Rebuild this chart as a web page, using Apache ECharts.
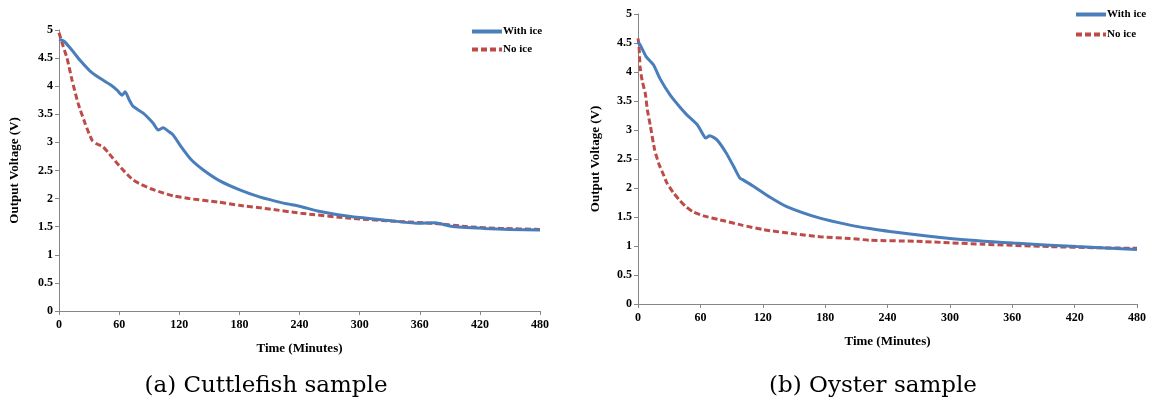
<!DOCTYPE html>
<html>
<head>
<meta charset="utf-8">
<script src="https://cdn.jsdelivr.net/npm/echarts@6/dist/echarts.min.js"></script>
<style>
  html, body { margin: 0; padding: 0; background: #fff; }
  #main { width: 1151px; height: 405px; }
</style>
</head>
<body>
<div id="main"></div>
<script>
// 横轴刻度 (分钟)
const timeTicks = [0, 60, 120, 180, 240, 300, 360, 420, 480];
const seriesNames = ['With ice', 'No ice'];

// (a) Cuttlefish
const cuttleIceTime = [0, 5, 13, 21, 31, 41, 51, 58, 63, 66, 70, 74, 84, 94, 99, 104, 109, 114, 122, 132, 144, 161, 181, 200, 224, 241, 258, 291, 324, 358, 375, 391, 424, 450, 480];
const cuttleIceVolt = [4.83, 4.80, 4.64, 4.46, 4.27, 4.14, 4.03, 3.93, 3.84, 3.90, 3.76, 3.64, 3.52, 3.34, 3.22, 3.26, 3.20, 3.13, 2.92, 2.69, 2.51, 2.31, 2.15, 2.03, 1.92, 1.86, 1.78, 1.68, 1.62, 1.56, 1.57, 1.51, 1.47, 1.45, 1.44];
const cuttleNoIceTime = [0, 4, 8, 13, 19, 26, 33, 38, 44, 50, 58, 66, 74, 82, 91, 102, 114, 130, 158, 180, 208, 241, 291, 341, 374, 408, 440, 480];
const cuttleNoIceVolt = [4.95, 4.72, 4.50, 4.11, 3.70, 3.34, 3.04, 2.97, 2.92, 2.80, 2.63, 2.47, 2.33, 2.25, 2.18, 2.11, 2.05, 2.00, 1.94, 1.88, 1.82, 1.74, 1.65, 1.59, 1.56, 1.50, 1.47, 1.45];

// (b) Oyster
const oysterIceTime = [0, 2, 8, 15, 21, 31, 40, 47, 57, 63, 65, 69, 76, 85, 92, 98, 101, 111, 127, 143, 175, 204, 223, 242, 300, 361, 422, 480];
const oysterIceVolt = [4.52, 4.47, 4.26, 4.12, 3.89, 3.60, 3.40, 3.26, 3.09, 2.91, 2.86, 2.90, 2.83, 2.60, 2.37, 2.17, 2.14, 2.03, 1.84, 1.68, 1.48, 1.36, 1.30, 1.25, 1.13, 1.05, 0.99, 0.94];
const oysterNoIceTime = [0, 1, 2, 4, 7, 9, 12, 16, 20, 24, 28, 34, 40, 46, 53, 63, 79, 100, 121, 150, 175, 204, 223, 268, 332, 396, 440, 480];
const oysterNoIceVolt = [4.58, 4.45, 4.09, 3.85, 3.63, 3.35, 3.06, 2.66, 2.42, 2.25, 2.08, 1.92, 1.79, 1.68, 1.59, 1.52, 1.45, 1.36, 1.28, 1.21, 1.16, 1.13, 1.10, 1.08, 1.03, 0.99, 0.97, 0.96];

const captions = ['(a) Cuttlefish sample', '(b) Oyster sample'];

const blue = '#4a7ebb';
const red = '#be4b48';
const axisGray = '#868686';
const serif = '"Liberation Serif", "DejaVu Serif", serif';

function pairs(ts, vs) {
    return ts.map((t, i) => [t, vs[i]]);
}

function xAxisOf(gridIndex) {
    return {
        type: 'value', gridIndex: gridIndex,
        min: 0, max: 480, interval: 60,
        name: 'Time (Minutes)', nameLocation: 'middle', nameGap: 31,
        nameTextStyle: { fontFamily: serif, fontWeight: 'bold', fontSize: 13, color: '#000' },
        axisLine: { lineStyle: { color: axisGray, width: 1 } },
        axisTick: { show: true, length: 4, lineStyle: { color: axisGray } },
        axisLabel: { fontFamily: serif, fontWeight: 'bold', fontSize: 12, color: '#000', margin: 8,
            formatter: v => timeTicks.includes(v) ? String(v) : '' },
        splitLine: { show: false }
    };
}

function yAxisOf(gridIndex, gap) {
    return {
        type: 'value', gridIndex: gridIndex,
        min: 0, max: 5, interval: 0.5,
        name: 'Output Voltage (V)', nameLocation: 'middle', nameGap: gap, nameRotate: 90,
        nameTextStyle: { fontFamily: serif, fontWeight: 'bold', fontSize: 13, color: '#000' },
        axisLine: { show: true, lineStyle: { color: axisGray, width: 1 } },
        axisTick: { show: true, length: 4, lineStyle: { color: axisGray } },
        axisLabel: { fontFamily: serif, fontWeight: 'bold', fontSize: 12, color: '#000', margin: 6 },
        splitLine: { show: false }
    };
}

function lineSeries(name, idx, data, color, dashed) {
    return {
        type: 'line', name: name,
        xAxisIndex: idx, yAxisIndex: idx,
        data: data, symbol: 'none', smooth: 0.2,
        lineStyle: { color: color, width: 3, type: dashed ? [6, 3] : 'solid' },
        itemStyle: { color: color },
        animation: false
    };
}

function legendOf(left, top, gap) {
    return {
        data: seriesNames, orient: 'vertical', left: left, top: top,
        itemWidth: 30, itemHeight: 10, itemGap: gap, selectedMode: false,
        itemStyle: { opacity: 0 },
        lineStyle: { width: 4 },
        textStyle: { fontFamily: serif, fontWeight: 'bold', fontSize: 11, color: '#000', padding: [0, 0, 0, -4] }
    };
}

let chart = echarts.init(document.getElementById('main'));
let option = {
    backgroundColor: '#fff',
    animation: false,
    grid: [
        { left: 59, top: 30, width: 481, height: 281 },
        { left: 638, top: 14, width: 499, height: 290 }
    ],
    xAxis: [xAxisOf(0), xAxisOf(1)],
    yAxis: [yAxisOf(0, 38), yAxisOf(1, 36)],
    legend: [legendOf(465, 21, 7), legendOf(1069, 4, 9)],
    series: [
        lineSeries(seriesNames[1], 0, pairs(cuttleNoIceTime, cuttleNoIceVolt), red, true),
        lineSeries(seriesNames[0], 0, pairs(cuttleIceTime, cuttleIceVolt), blue, false),
        lineSeries(seriesNames[1], 1, pairs(oysterNoIceTime, oysterNoIceVolt), red, true),
        lineSeries(seriesNames[0], 1, pairs(oysterIceTime, oysterIceVolt), blue, false)
    ],
    graphic: [
        { type: 'text', x: 266, y: 386, style: { text: captions[0], fontFamily: '"DejaVu Serif", serif', fontSize: 23, fill: '#000', align: 'center', verticalAlign: 'middle' } },
        { type: 'text', x: 873, y: 386, style: { text: captions[1], fontFamily: '"DejaVu Serif", serif', fontSize: 23, fill: '#000', align: 'center', verticalAlign: 'middle' } }
    ]
};
chart.setOption(option);
</script>
</body>
</html>
